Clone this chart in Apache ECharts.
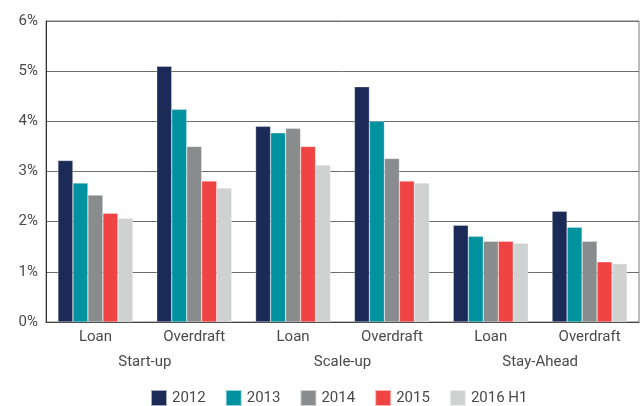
<!DOCTYPE html>
<html>
<head>
<meta charset="utf-8">
<script src="https://cdn.jsdelivr.net/npm/echarts@6/dist/echarts.min.js"></script>
<style>
  html, body { margin: 0; padding: 0; background: #fff; }
  #chart { width: 641px; height: 406px; }
</style>
</head>
<body>
<div id="chart"></div>
<script>
// products inside each group, and the groups
const products = ['Loan', 'Overdraft', 'Loan', 'Overdraft', 'Loan', 'Overdraft']
const groups = ['Start-up', 'Scale-up', 'Stay-Ahead']
const years = ['2012', '2013', '2014', '2015', '2016 H1']

// rates in %
const rate2012 = [3.22, 5.10, 3.90, 4.69, 1.93, 2.21]
const rate2013 = [2.77, 4.24, 3.77, 4.00, 1.71, 1.89]
const rate2014 = [2.53, 3.50, 3.86, 3.26, 1.61, 1.61]
const rate2015 = [2.17, 2.81, 3.50, 2.81, 1.61, 1.20]
const rate2016H1 = [2.07, 2.67, 3.13, 2.77, 1.57, 1.16]

const colors = ['#1c2a57', '#00929e', '#898c8d', '#ef4443', '#d0d1d1']
const seriesData = [rate2012, rate2013, rate2014, rate2015, rate2016H1]

const textColor = '#4a4a4a'
const font = 'Roboto'

const chart = echarts.init(document.getElementById('chart'))

const option = {
  animation: false,
  color: colors,
  grid: {
    left: 46,
    right: 2,
    top: 21,
    bottom: 84,
    show: true,
    borderColor: '#7a7a7a',
    borderWidth: 1
  },
  legend: {
    left: 150,
    top: 389,
    padding: 0,
    itemWidth: 16,
    itemHeight: 16,
    itemGap: 19,
    icon: 'rect',
    data: years,
    textStyle: { color: textColor, fontSize: 15, fontFamily: font }
  },
  xAxis: [
    {
      type: 'category',
      data: products,
      axisLine: { lineStyle: { color: '#444', width: 1 } },
      axisTick: { length: 4, lineStyle: { color: '#444' } },
      axisLabel: { margin: 8, color: textColor, fontSize: 15, fontFamily: font }
    },
    {
      type: 'category',
      data: groups,
      position: 'bottom',
      axisLine: { show: false },
      axisTick: { length: 45, lineStyle: { color: '#555' } },
      axisLabel: { margin: 33, color: textColor, fontSize: 15, fontFamily: font }
    }
  ],
  yAxis: {
    type: 'value',
    min: 0,
    max: 6,
    interval: 1,
    axisLine: { show: true, lineStyle: { color: '#333' } },
    axisTick: { show: false },
    splitLine: { lineStyle: { color: '#6e6e6e', width: 1 } },
    axisLabel: {
      formatter: '{value}%',
      margin: 8,
      color: textColor,
      fontSize: 15,
      fontFamily: font
    }
  },
  series: seriesData.map((d, i) => ({
    name: years[i],
    type: 'bar',
    xAxisIndex: 0,
    barWidth: 15,
    barGap: '0%',
    data: d,
    itemStyle: { borderColor: 'rgba(255,255,255,0.6)', borderWidth: 0.5 }
  }))
}

chart.setOption(option)
</script>
</body>
</html>
